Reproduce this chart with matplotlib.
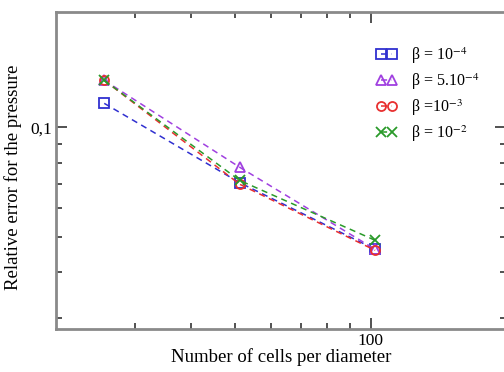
import matplotlib
matplotlib.use("Agg")
import matplotlib.pyplot as plt
from matplotlib.ticker import FixedLocator, FuncFormatter, NullFormatter

# cells per diameter
cells = [25.6, 51.2, 102.4]

# relative error of the pressure for each beta
err_b1 = [0.1163, 0.0705, 0.0463]   # beta = 1e-4
err_b2 = [0.1345, 0.0777, 0.0463]   # beta = 5e-4
err_b3 = [0.1345, 0.0698, 0.0460]   # beta = 1e-3
err_b4 = [0.1345, 0.0715, 0.0490]   # beta = 1e-2

labels = ["β = 10$^{-4}$", "β = 5.10$^{-4}$",
          "β =10$^{-3}$", "β = 10$^{-2}$"]

plt.rcParams['font.family'] = ['Liberation Serif', 'DejaVu Serif']
plt.rcParams['mathtext.fontset'] = 'stix'


def main():
    fig = plt.figure(figsize=(5.04, 3.72), dpi=100)
    ax = fig.add_axes([56 / 504, 43 / 372, 450 / 504, 317 / 372])

    series = [
        (err_b1, '#3030d0', 's'),
        (err_b2, '#a040e0', '^'),
        (err_b3, '#e83030', 'o'),
        (err_b4, '#2a9a2a', 'x'),
    ]
    for (vals, col, mk), lab in zip(series, labels):
        ax.plot(cells, vals, ls=(0, (4, 3)), color=col, lw=1.1,
                marker=mk, ms=6.5, mfc='none', mec=col, mew=1.3, label=lab)

    ax.set_xscale('log')
    ax.set_yscale('log')
    ax.set_xlim(20, 200)
    ax.set_ylim(0.028, 0.207)

    ax.xaxis.set_major_locator(FixedLocator([100]))
    ax.xaxis.set_minor_locator(FixedLocator([30, 40, 50, 60, 70, 80, 90]))
    ax.yaxis.set_major_locator(FixedLocator([0.1]))
    ax.yaxis.set_minor_locator(FixedLocator([0.03, 0.04, 0.05, 0.06, 0.07, 0.08, 0.09]))
    ax.xaxis.set_major_formatter(FuncFormatter(lambda v, p: '100' if abs(v - 100) < 1 else ''))
    ax.yaxis.set_major_formatter(FuncFormatter(lambda v, p: '0,1' if abs(v - 0.1) < 1e-3 else ''))
    ax.xaxis.set_minor_formatter(NullFormatter())
    ax.yaxis.set_minor_formatter(NullFormatter())

    ax.tick_params(which='both', direction='in', top=True, right=True,
                   color='#333333', width=1.2)
    ax.tick_params(which='major', length=8, pad=3, labelsize=12.5)
    ax.tick_params(which='minor', length=4)
    for sp in ax.spines.values():
        sp.set_color('#8a8a8a')
        sp.set_linewidth(2)

    ax.set_xlabel('Number of cells per diameter', fontsize=13.5, labelpad=-1)
    ax.set_ylabel('Relative error for the pressure', fontsize=13.5)
    ax.yaxis.set_label_coords(-0.075, 0.48)

    ax.legend(loc='upper right', bbox_to_anchor=(0.955, 0.915), frameon=False,
              numpoints=2, handlelength=1.3, handletextpad=0.9,
              labelspacing=0.33, fontsize=11.5, borderaxespad=0)

    fig.savefig('out.png', dpi=100)


if __name__ == "__main__":
    main()
